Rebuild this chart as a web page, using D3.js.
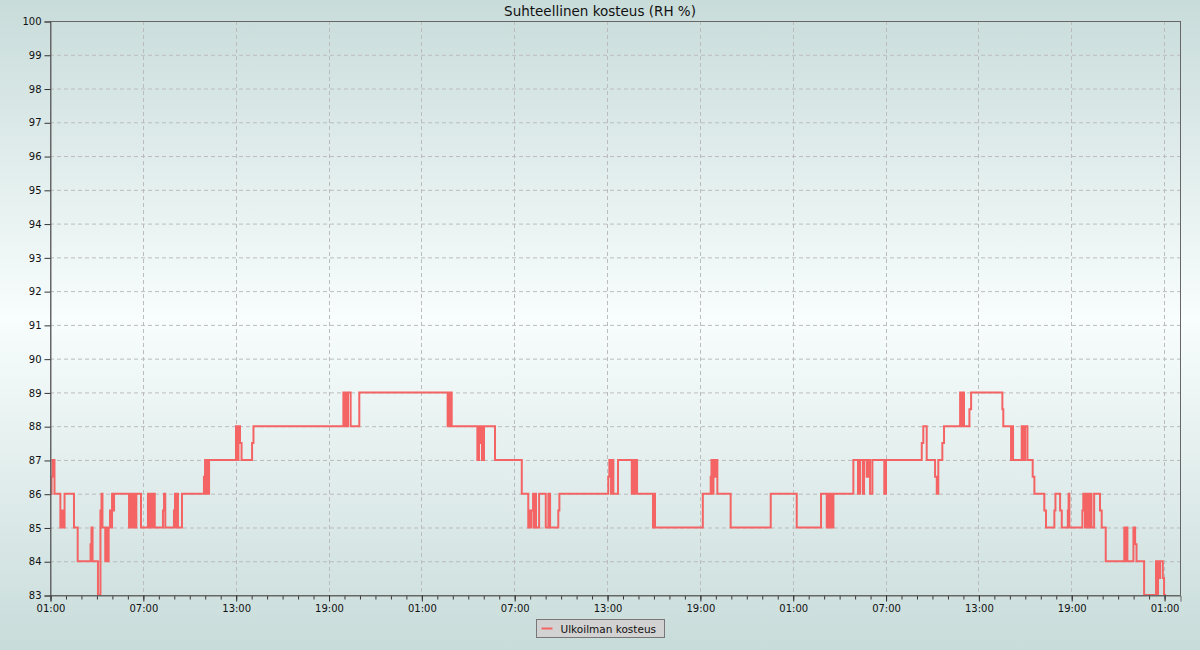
<!DOCTYPE html>
<html>
<head>
<meta charset="utf-8">
<script src="https://cdn.jsdelivr.net/npm/d3@7"></script>
<style>
html,body{margin:0;padding:0;}
body{width:1200px;height:650px;overflow:hidden;}
svg{display:block;font-family:"DejaVu Sans",sans-serif;}
</style>
</head>
<body>
<svg id="chart" width="1200" height="650"></svg>
<script>
// ---- data ----
const chartTitle = "Suhteellinen kosteus (RH %)";
const seriesName = "Ulkoilman kosteus";
// hours since the first 01:00 at which the reading changes
const hours = [0,0.10,0.16,0.29,0.67,0.74,0.81,0.94,1.55,1.79,2.62,2.68,2.75,3.10,3.26,3.33,3.39,3.57,3.65,3.72,3.79,3.88,3.94,4.01,4.07,4.14,
5.11,5.17,5.24,5.30,5.36,5.43,5.49,5.58,5.88,6.33,6.43,6.50,6.56,6.62,6.69,6.77,7.30,7.37,7.45,8.01,8.08,8.14,8.21,8.27,8.53,
9.95,10.02,10.08,10.15,10.21,10.28,12.02,12.12,12.18,12.28,12.38,13.06,13.15,18.96,19.07,19.13,19.20,19.26,19.43,19.99,
25.70,25.77,25.83,25.90,25.96,27.62,27.73,27.79,27.86,27.92,28.05,28.76,30.49,30.91,30.99,31.06,31.12,31.22,31.28,31.35,31.41,31.61,
32.04,32.21,32.32,32.85,32.92,36.08,36.15,36.26,36.32,36.41,36.71,37.60,37.70,37.78,37.84,37.94,38.97,39.04,39.10,
42.19,42.70,42.75,42.82,42.88,42.93,43.05,43.13,43.99,46.58,48.26,49.83,50.20,50.28,50.35,50.41,50.54,50.63,
51.92,52.22,52.35,52.53,52.61,52.78,52.91,53.00,53.15,53.92,54.03,56.34,56.44,56.66,57.20,57.31,57.41,57.67,57.78,
58.82,58.91,58.98,59.07,59.42,59.53,61.55,61.61,62.11,62.17,62.24,62.80,62.92,63.02,63.17,63.51,63.62,
64.26,64.37,64.91,64.98,65.28,65.39,65.78,65.83,65.88,66.72,66.78,66.89,66.96,67.02,67.09,67.15,67.22,67.31,67.48,67.86,67.97,
68.23,69.43,69.51,69.58,69.63,70.02,70.13,70.22,70.71,71.48,71.55,71.61,71.68,71.74,71.92,72.00,72.13];
const humidity = [86,86.5,87,86,85,85.5,85,86,85,84,84.5,85,84,83,85.5,86,85,84,85,84,85,85.5,85,86,85.5,86,
85,86,85,86,85,86,85,86,85,86,85,86,85.5,85,86,85,85.5,86,85,85.5,86,85,86,85,86,
86.5,87,86,87,86,87,88,87,88,87.5,87,87.5,88,89,88,89,88,89,88,89,
88,89,88,89,88,87,88,87.5,88,87,88,87,86,85,85.5,85,85.5,86,85,86,85,86,
85,86,85,85.5,86,86.5,87,86,87,86,87,86,87,86,87,86,85,86,85,
86,86.5,87,86,87,86.5,87,86,85,86,85,86,85,86,85,86,85,86,
87,86,87,86,87,86.5,87,86,87,86,87,87.5,88,87,86.5,86,87,87.5,88,
89,88,89,88,88.5,89,88.5,88,87,88,87,88,87,88,87,86.5,86,
85.5,85,85.5,86,85.5,85,85.5,86,85,85.5,86,85,86,85,86,85,86,85,86,85.5,85,
84,85,84,85,84,85,84.5,84,83,84,83,84,83.5,84,83.5,83,83];
const xTickHours = [0,6,12,18,24,30,36,42,48,54,60,66,72];
const xTickLabels = ["01:00","07:00","13:00","19:00","01:00","07:00","13:00","19:00","01:00","07:00","13:00","19:00","01:00"];
const yTicks = [83,84,85,86,87,88,89,90,91,92,93,94,95,96,97,98,99,100];
const xDomain = [0, 73.03];
const yDomain = [83, 100];

// ---- layout ----
const W = 1200, H = 650;
const m = {left:50, right:20, top:21, bottom:55};
const iw = W - m.left - m.right, ih = H - m.top - m.bottom;
const svg = d3.select("#chart");

const defs = svg.append("defs");
const bg = defs.append("linearGradient").attr("id","bg").attr("x1",0).attr("y1",0).attr("x2",0).attr("y2",1);
bg.append("stop").attr("offset","0%").attr("stop-color","#c8dcda");
bg.append("stop").attr("offset","49%").attr("stop-color","#f8fdfd");
bg.append("stop").attr("offset","100%").attr("stop-color","#c8dcda");
svg.append("rect").attr("width",W).attr("height",H).attr("fill","url(#bg)");

const x = d3.scaleLinear().domain(xDomain).range([m.left, m.left+iw]);
const y = d3.scaleLinear().domain(yDomain).range([m.top+ih, m.top]);

// grid
const grid = svg.append("g");
grid.selectAll("line.h").data(yTicks.filter(v=>v>yDomain[0] && v<yDomain[1])).enter().append("line")
  .attr("x1",m.left).attr("x2",m.left+iw).attr("y1",d=>y(d)+0.5).attr("y2",d=>y(d)+0.5)
  .attr("stroke","#bcbcbc").attr("stroke-dasharray","4,3").attr("stroke-width",1);
grid.selectAll("line.v").data(xTickHours.filter(v=>v>xDomain[0])).enter().append("line")
  .attr("x1",d=>Math.round(x(d))+0.5).attr("x2",d=>Math.round(x(d))+0.5).attr("y1",m.top).attr("y2",m.top+ih)
  .attr("stroke","#bcbcbc").attr("stroke-dasharray","4,3").attr("stroke-width",1);

// line
const pts = hours.map((h,i)=>({h, v: humidity[i]}));
const line = d3.line().x(d=>x(d.h)).y(d=>y(d.v)).curve(d3.curveStepAfter);
svg.append("path").datum(pts).attr("d",line).attr("fill","none")
  .attr("stroke","#f46464").attr("stroke-width",2).attr("stroke-linejoin","miter");

// frame
svg.append("rect").attr("x",m.left+0.5).attr("y",m.top+0.5).attr("width",iw).attr("height",ih)
  .attr("fill","none").attr("stroke","#666").attr("stroke-width",1);

// y axis
const yAxis = d3.axisLeft(y).tickValues(yTicks).tickSize(6).tickPadding(3).tickFormat(d3.format("d"));
const gy = svg.append("g").attr("transform",`translate(${m.left+0.5},0.5)`).call(yAxis);
gy.select(".domain").attr("stroke","#666");
gy.selectAll(".tick line").attr("stroke","#333");
gy.selectAll("text").attr("font-size",10).attr("fill","#111").attr("font-family","DejaVu Sans");

// x axis minor
const minor = d3.range(0, 73, 1);
const gxm = svg.append("g").attr("transform",`translate(0.5,${m.top+ih+0.5})`)
  .call(d3.axisBottom(x).tickValues(minor).tickSize(4).tickFormat(""));
gxm.select(".domain").remove();
gxm.selectAll(".tick line").attr("stroke","#333");
// x axis major
const gx = svg.append("g").attr("transform",`translate(0.5,${m.top+ih+0.5})`)
  .call(d3.axisBottom(x).tickValues(xTickHours).tickSize(6).tickPadding(3).tickFormat((d,i)=>xTickLabels[i]));
gx.select(".domain").attr("stroke","#666");
gx.selectAll(".tick line").attr("stroke","#333");
gx.selectAll("text").attr("font-size",10).attr("fill","#111").attr("font-family","DejaVu Sans");

// title
svg.append("text").attr("x",600).attr("y",16).attr("text-anchor","middle")
  .attr("font-size",13.5).attr("fill","#111").text(chartTitle);

// legend
const lg = svg.append("g").attr("transform","translate(536.5,619.5)");
lg.append("rect").attr("width",128).attr("height",18).attr("fill","#d2d2d2").attr("stroke","#777");
lg.append("line").attr("x1",5).attr("x2",16).attr("y1",9).attr("y2",9).attr("stroke","#f46464").attr("stroke-width",2);
lg.append("text").attr("x",24).attr("y",13).attr("font-size",10.5).attr("fill","#111").text(seriesName);
</script>
</body>
</html>
